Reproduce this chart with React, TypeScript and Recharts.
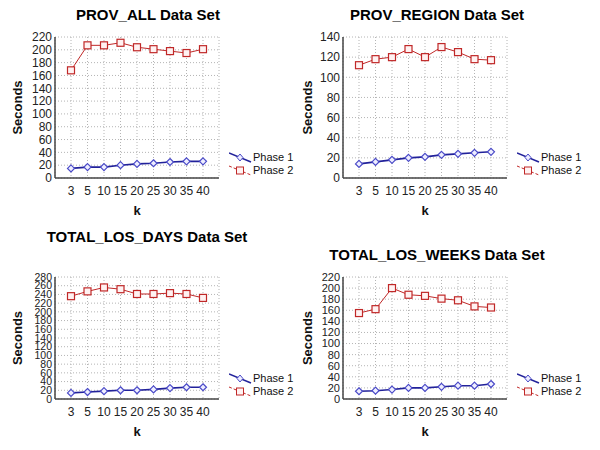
import React from 'react';
import { LineChart, Line, XAxis, YAxis, CartesianGrid, Label } from 'recharts';

const kLabels = ['3', '5', '10', '15', '20', '25', '30', '35', '40'];

const provAllPhase1 = [15, 17, 17, 20, 22, 23, 25, 26, 26];
const provAllPhase2 = [168, 207, 207, 211, 204, 201, 198, 195, 201];

const provRegionPhase1 = [14, 16, 18, 20, 21, 23, 24, 25, 26];
const provRegionPhase2 = [112, 118, 120, 128, 120, 130, 125, 118, 117];

const losDaysPhase1 = [14, 16, 18, 20, 20, 22, 25, 27, 27];
const losDaysPhase2 = [236, 247, 256, 252, 241, 241, 243, 241, 232];

const losWeeksPhase1 = [14, 15, 17, 20, 20, 22, 24, 24, 27];
const losWeeksPhase2 = [155, 162, 200, 188, 186, 181, 178, 167, 165];

const ticks140 = [0, 20, 40, 60, 80, 100, 120, 140];
const ticks220 = [0, 20, 40, 60, 80, 100, 120, 140, 160, 180, 200, 220];
const ticks280 = [0, 20, 40, 60, 80, 100, 120, 140, 160, 180, 200, 220, 240, 260, 280];

const FONT = '"Liberation Sans", Arial, sans-serif';
const BLUE = '#22229a';
const RED = '#c02828';

const makeRows = (p1: number[], p2: number[]) =>
  kLabels.map((k, i) => ({ k, p1: p1[i], p2: p2[i] }));

const DiamondDot = (props: any) => {
  const { cx, cy, index } = props;
  if (cx == null || cy == null) return null;
  return (
    <path
      key={`d-${index}`}
      d={`M${cx},${cy - 3.5}L${cx + 3.5},${cy}L${cx},${cy + 3.5}L${cx - 3.5},${cy}Z`}
      fill="#eeeeff"
      stroke="#4a4ac8"
      strokeWidth={1.2}
    />
  );
};

const SquareDot = (props: any) => {
  const { cx, cy, index } = props;
  if (cx == null || cy == null) return null;
  return (
    <rect
      key={`s-${index}`}
      x={cx - 3.5}
      y={cy - 3.5}
      width={7}
      height={7}
      fill="#fff2f2"
      stroke={RED}
      strokeWidth={1.2}
    />
  );
};

const LegendBox = ({ left, top }: { left: number; top: number }) => (
  <div
    style={{
      position: 'absolute',
      left,
      top,
      fontFamily: FONT,
      fontSize: 11,
      color: '#111',
      lineHeight: '13px',
      whiteSpace: 'nowrap',
    }}
  >
    <div style={{ display: 'flex', alignItems: 'center', height: 13 }}>
      <svg width={24} height={13}>
        <line x1={0} y1={2} x2={22} y2={11} stroke={BLUE} strokeWidth={1.5} />
        <path d="M11,3L14,6.5L11,10L8,6.5Z" fill="#eeeeff" stroke="#4a4ac8" />
      </svg>
      <span>Phase 1</span>
    </div>
    <div style={{ display: 'flex', alignItems: 'center', height: 13 }}>
      <svg width={24} height={13}>
        <line x1={0} y1={2} x2={22} y2={11} stroke={RED} strokeWidth={1} strokeDasharray="3 2" />
        <rect x={7.5} y={3} width={7} height={7} fill="#fff2f2" stroke={RED} />
      </svg>
      <span>Phase 2</span>
    </div>
  </div>
);

type PanelProps = {
  title: string;
  p1: number[];
  p2: number[];
  max: number;
  ticks: number[];
  tickFont: number;
  left: number;
  top: number;
  axisW: number;
  plotTop: number;
  plotBottom: number;
  titleX: number;
  titleY: number;
  seconds: number;
};

const Panel = (p: PanelProps) => {
  const data = makeRows(p.p1, p.p2);
  const plotRight = p.axisW + 164;
  return (
    <div style={{ position: 'absolute', left: p.left, top: p.top, width: 300, height: 225 }}>
      <div
        style={{
          position: 'absolute',
          left: p.titleX - 150,
          width: 300,
          top: p.titleY - 9,
          textAlign: 'center',
          fontFamily: FONT,
          fontWeight: 'bold',
          fontSize: 15,
          color: '#000',
          whiteSpace: 'nowrap',
        }}
      >
        {p.title}
      </div>
      <LineChart
        width={300}
        height={225}
        data={data}
        margin={{ top: p.plotTop, right: 300 - plotRight, bottom: 0, left: 0 }}
        style={{ overflow: 'visible' }}
      >
        <CartesianGrid stroke="#b4b4b4" strokeDasharray="1 2" />
        <XAxis
          dataKey="k"
          type="category"
          padding={{ left: 16, right: 16 }}
          height={225 - p.plotBottom}
          tickLine={false}
          tickSize={0}
          tickMargin={8}
          interval={0}
          axisLine={{ stroke: '#444', strokeWidth: 1.5 }}
          tick={{ fill: '#222', fontSize: 12, fontFamily: FONT }}
        >
          <Label
            value="k"
            position="insideTop"
            offset={28}
            style={{ fill: '#111', fontSize: 13, fontWeight: 'bold', fontFamily: FONT }}
          />
        </XAxis>
        <XAxis
          xAxisId="top"
          dataKey="k"
          orientation="top"
          height={0}
          tick={false}
          tickLine={false}
          axisLine={{ stroke: '#444', strokeWidth: 1.5 }}
        />
        <YAxis
          domain={[0, p.max]}
          ticks={p.ticks}
          interval={0}
          width={p.axisW}
          tickLine={false}
          tickSize={0}
          tickMargin={3}
          axisLine={{ stroke: '#444', strokeWidth: 1.5 }}
          tick={{ fill: '#222', fontSize: p.tickFont, fontFamily: FONT }}
        >
          <Label
            value="Seconds"
            angle={-90}
            position="center"
            dx={p.seconds - p.axisW / 2}
            style={{ fill: '#111', fontSize: 13, fontWeight: 'bold', fontFamily: FONT }}
          />
        </YAxis>
        <YAxis
          yAxisId="right"
          orientation="right"
          width={0}
          tick={false}
          tickLine={false}
          axisLine={{ stroke: '#444', strokeWidth: 1.5 }}
        />
        <Line
          dataKey="p2"
          name="Phase 2"
          stroke={RED}
          strokeWidth={1}
          dot={SquareDot}
          isAnimationActive={false}
        />
        <Line
          dataKey="p1"
          name="Phase 1"
          stroke={BLUE}
          strokeWidth={1.6}
          dot={DiamondDot}
          isAnimationActive={false}
        />
      </LineChart>
      <LegendBox left={plotRight + 10} top={p.plotBottom - 27} />
    </div>
  );
};

export default function App() {
  return (
    <div style={{ position: 'absolute', left: 0, top: 0, width: 600, height: 450, background: '#fff' }}>
      <Panel
        title="PROV_ALL Data Set"
        p1={provAllPhase1}
        p2={provAllPhase2}
        max={220}
        ticks={ticks220}
        tickFont={12}
        left={0}
        top={0}
        axisW={55}
        plotTop={37}
        plotBottom={178}
        titleX={148}
        titleY={15}
        seconds={17}
      />
      <Panel
        title="PROV_REGION Data Set"
        p1={provRegionPhase1}
        p2={provRegionPhase2}
        max={140}
        ticks={ticks140}
        tickFont={12}
        left={300}
        top={0}
        axisW={43}
        plotTop={37}
        plotBottom={178}
        titleX={137}
        titleY={15}
        seconds={7}
      />
      <Panel
        title="TOTAL_LOS_DAYS Data Set"
        p1={losDaysPhase1}
        p2={losDaysPhase2}
        max={280}
        ticks={ticks280}
        tickFont={10.5}
        left={0}
        top={225}
        axisW={55}
        plotTop={52}
        plotBottom={174}
        titleX={147}
        titleY={12}
        seconds={17}
      />
      <Panel
        title="TOTAL_LOS_WEEKS Data Set"
        p1={losWeeksPhase1}
        p2={losWeeksPhase2}
        max={220}
        ticks={ticks220}
        tickFont={11}
        left={300}
        top={225}
        axisW={43}
        plotTop={52}
        plotBottom={174}
        titleX={137}
        titleY={30}
        seconds={7}
      />
    </div>
  );
}
